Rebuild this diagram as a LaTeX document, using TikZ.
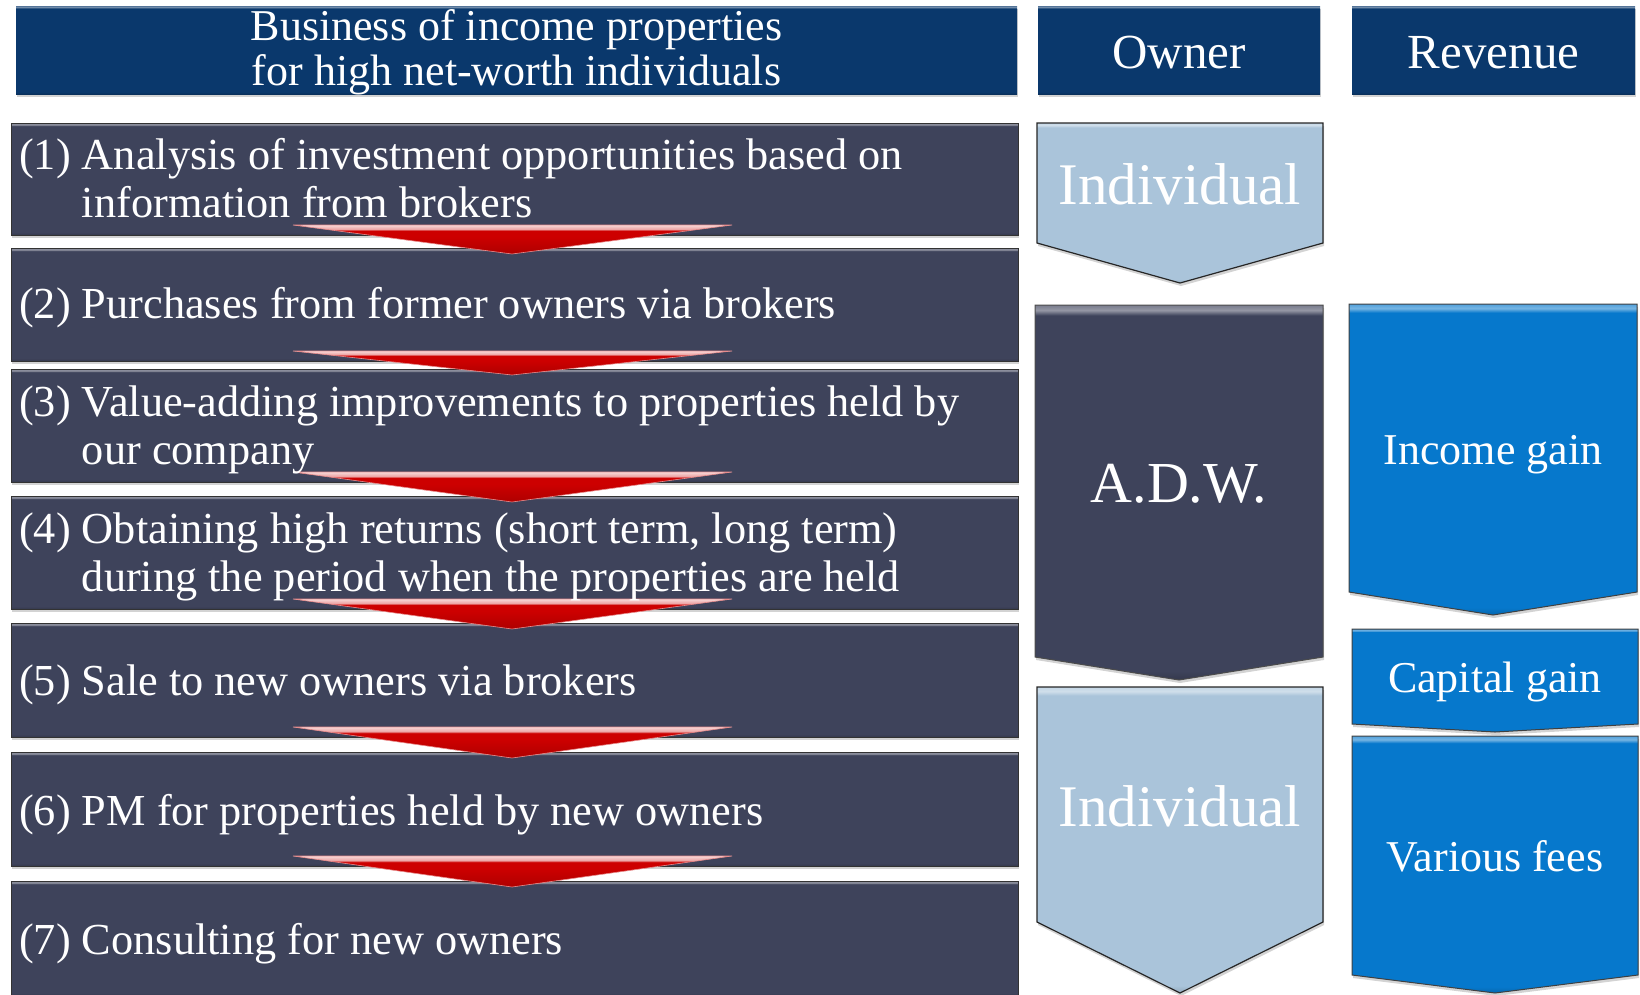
\documentclass[tikz,border=0pt]{standalone}
\usepackage{fontspec}
\setmainfont{Liberation Serif}
\usetikzlibrary{shadows,calc}
\definecolor{hdr}{RGB}{10,56,108}
\definecolor{stepc}{RGB}{62,67,91}
\definecolor{lblue}{RGB}{170,196,218}
\definecolor{bblue}{RGB}{6,120,204}
\definecolor{redc}{RGB}{205,0,0}
\newcommand\mkshade[1]{\pgfdeclareverticalshading{#1shade}{100bp}{color(0bp)=(#1!85!black); color(25bp)=(#1!85!black); color(26.2bp)=(#1); color(73.6bp)=(#1); color(74.3bp)=(#1!55!white); color(75bp)=(#1!70!white); color(100bp)=(#1!70!white)}}
\mkshade{hdr}
\mkshade{stepc}
\mkshade{lblue}
\mkshade{bblue}
\pgfdeclareverticalshading{redshade}{100bp}{color(0bp)=(redc!85!black); color(25bp)=(redc!85!black); color(55bp)=(redc); color(65bp)=(redc); color(68bp)=(redc!35!white); color(75bp)=(redc!15!white); color(100bp)=(redc!15!white)}
\pgfdeclarelayer{bg}
\pgfsetlayers{bg,main}
\tikzset{
  shad/.style={drop shadow={opacity=0.35, shadow xshift=1pt, shadow yshift=-3pt}},
  hdrbox/.style={shade, shading=hdrshade, shad, inner sep=0pt, outer sep=0pt},
  hdrtext/.style={inner sep=0pt, text=white, align=center},
  stepbox/.style={shade, shading=stepcshade, shad, draw=black!80, line width=0.8pt, inner sep=0pt, outer sep=0pt, minimum width=1007pt},
  steptext/.style={anchor=west, inner sep=0pt, text=white, font=\fontsize{44.3}{48}\selectfont},
  holder/.style={inner sep=0pt, outer sep=0pt},
  ptext/.style={inner sep=0pt, outer sep=0pt, text=white, align=center},
  lbshape/.style={shade, shading=lblueshade, shad, draw=black!85, line width=1.2pt},
  dkshape/.style={shade, shading=stepcshade, shad, draw=black!70, line width=1pt},
  bbshape/.style={shade, shading=bblueshade, shad, draw=black!75, line width=1pt},
  redarrow/.style={shade, shading=redshade, draw=redc!45!white, line width=0.6pt},
}
\newcommand\pent[3]{\begin{pgfonlayer}{bg}\path[#3] (#1.north west) -- (#1.north east) -- (#1.south east) -- ([yshift=-#2pt]#1.south) -- (#1.south west) -- cycle;\end{pgfonlayer}}
\newcommand\redarr[2]{\path[redarrow] ([xshift=282pt,yshift=10pt]#1.south west) -- ([xshift=721pt,yshift=10pt]#1.south west) -- ([xshift=501pt,yshift=-6pt]#2.north west) -- cycle;}
\newcommand\steptab[2]{\begin{tabular}{@{}l@{\hspace{0.25em}}l@{}}#1&#2\end{tabular}}
\begin{document}
\begin{tikzpicture}[x=1pt,y=-1pt]
\useasboundingbox (0,0) rectangle (1640,994);
% headers
\node[hdrbox, minimum width=1001pt, minimum height=88pt] (hd) at (516.5,50) {};
\node[hdrtext, font=\fontsize{44}{45}\selectfont] (hdt) at ([yshift=-2pt]hd.center) {Business of income properties\\for high net-worth individuals};
\node[hdrbox, minimum width=282pt, minimum height=88pt] (own) at (1179,50) {};
\node[hdrtext, font=\fontsize{49}{55}\selectfont] (ownt) at ([yshift=-3pt]own.center) {Owner};
\node[hdrbox, minimum width=283pt, minimum height=88pt] (rev) at (1493.5,50) {};
\node[hdrtext, font=\fontsize{49}{55}\selectfont] (revt) at ([yshift=-3pt]rev.center) {Revenue};
% steps
\node[stepbox, minimum height=112pt] (s1) at (514.5,179) {};
\node[stepbox, minimum height=113pt] (s2) at (514.5,304.5) {};
\node[stepbox, minimum height=113pt] (s3) at (514.5,425.5) {};
\node[stepbox, minimum height=113pt] (s4) at (514.5,552.5) {};
\node[stepbox, minimum height=114pt] (s5) at (514.5,680) {};
\node[stepbox, minimum height=114pt] (s6) at (514.5,809) {};
\node[stepbox, minimum height=115pt] (s7) at (514.5,938.5) {};
% red arrows
\redarr{s1}{s2}
\redarr{s2}{s3}
\redarr{s3}{s4}
\redarr{s4}{s5}
\redarr{s5}{s6}
\redarr{s6}{s7}
% step texts
\node[steptext] (t1) at ([xshift=8pt,yshift=-5pt]s1.west) {\steptab{(1)}{Analysis of investment opportunities based on\\&information from brokers}};
\node[steptext] (t2) at ([xshift=8pt,yshift=-4pt]s2.west) {\steptab{(2)}{Purchases from former owners via brokers}};
\node[steptext] (t3) at ([xshift=8pt,yshift=-5pt]s3.west) {\steptab{(3)}{Value-adding improvements to properties held by\\&our company}};
\node[steptext] (t4) at ([xshift=8pt,yshift=-5pt]s4.west) {\steptab{(4)}{Obtaining high returns (short term, long term)\\&during the period when the properties are held}};
\node[steptext] (t5) at ([xshift=8pt,yshift=-6pt]s5.west) {\steptab{(5)}{Sale to new owners via brokers}};
\node[steptext] (t6) at ([xshift=8pt,yshift=-7pt]s6.west) {\steptab{(6)}{PM for properties held by new owners}};
\node[steptext] (t7) at ([xshift=8pt,yshift=-6pt]s7.west) {\steptab{(7)}{Consulting for new owners}};
% owner column
\node[holder, minimum width=286pt, minimum height=120pt] (ind1) at (1180,183) {};
\pent{ind1}{40}{lbshape}
\node[ptext, font=\fontsize{59}{60}\selectfont] (ind1t) at ([yshift=-1pt]ind1.center) {Individual};
\node[holder, minimum width=288pt, minimum height=352pt] (adw) at (1179,481) {};
\pent{adw}{23}{dkshape}
\node[ptext, font=\fontsize{58}{60}\selectfont] (adwt) at ([yshift=-3pt]adw.center) {A.D.W.};
\node[holder, minimum width=286pt, minimum height=235pt] (ind2) at (1180,804.5) {};
\pent{ind2}{71}{lbshape}
\node[ptext, font=\fontsize{59}{60}\selectfont] (ind2t) at ([yshift=-2pt]ind2.center) {Individual};
% revenue column
\node[holder, minimum width=288pt, minimum height=288pt] (inc) at (1493,448) {};
\pent{inc}{23}{bbshape}
\node[ptext, font=\fontsize{44}{48}\selectfont] (inct) at ([yshift=-7pt]inc.center) {Income gain};
\node[holder, minimum width=286pt, minimum height=95pt] (cap) at (1495,676.5) {};
\pent{cap}{8}{bbshape}
\node[ptext, font=\fontsize{44}{48}\selectfont] (capt) at ([yshift=-5pt]cap.center) {Capital gain};
\node[holder, minimum width=286pt, minimum height=239pt] (fee) at (1495,855.5) {};
\pent{fee}{18}{bbshape}
\node[ptext, font=\fontsize{44}{48}\selectfont] (feet) at ([yshift=-1pt]fee.center) {Various fees};
\end{tikzpicture}
\end{document}
